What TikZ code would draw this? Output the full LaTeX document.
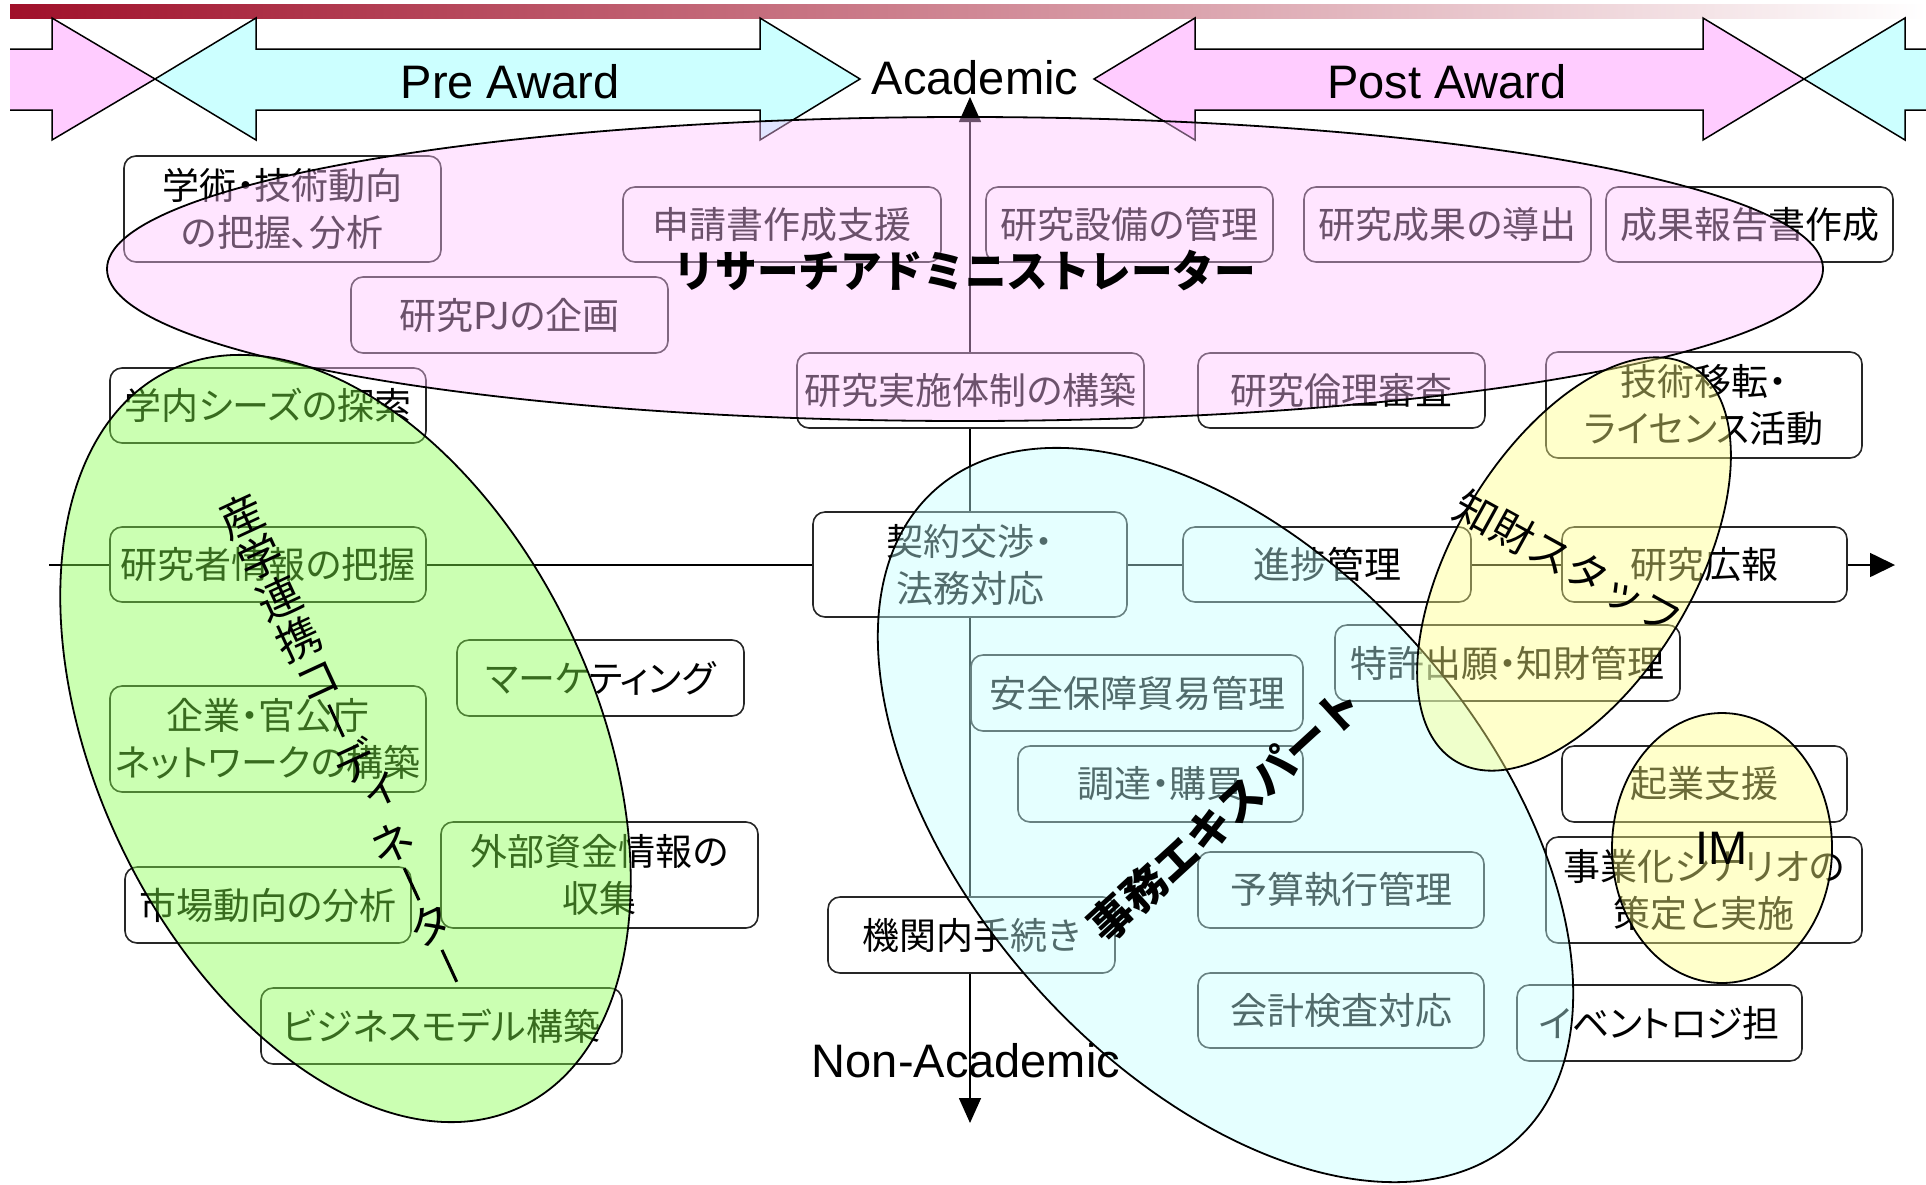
\documentclass[tikz,border=0pt]{standalone}
\usepackage{fontspec}
\usetikzlibrary{arrows.meta,shapes.geometric}
\setmainfont{Liberation Sans}
\newfontfamily\jp{Noto Sans CJK JP}
\newfontfamily\jpp{Noto Sans CJK JP}[RawFeature=+palt]
\definecolor{pinkA}{HTML}{FFCCFF}
\definecolor{cyanA}{HTML}{CCFFFF}
\definecolor{pinkE}{HTML}{FFC2FF}
\definecolor{cyanE}{HTML}{C2FFFF}
\definecolor{greenE}{HTML}{85FF49}
\definecolor{yellowE}{HTML}{FFFF85}
\definecolor{barred}{HTML}{A0102A}
\definecolor{barmid}{HTML}{CE9A9A}
\newcommand{\kvbar}{\raisebox{-0.02em}{\rule{3pt}{0.8em}}}
\newcommand{\ksmalli}{\makebox[1em][l]{\hspace{0.3em}\raisebox{0.3em}{ィ}}}
\tikzset{
  box/.style={draw=black!85, line width=1.6pt, rounded corners=12pt, fill=white,
    inner sep=0pt, align=center, font=\jpp\fontsize{37}{47}\selectfont},
  bigarrow/.style={draw=black, line width=1.5pt, line join=miter},
  axisline/.style={draw=black, line width=1.6pt},
  blob/.style={ellipse, draw=black, line width=1.8pt, fill opacity=0.42, inner sep=0pt},
  tag/.style={inner sep=0pt, text=black},
  latin/.style={font=\fontsize{47}{50}\selectfont, inner sep=0pt, text=black},
}
\begin{document}
\begin{tikzpicture}[x=1pt, y=-1pt]
\useasboundingbox (0,0) rectangle (1926,1184);
\fill[white] (0,0) rectangle (1926,1184);
% top gradient bar
\shade[left color=barred, middle color=barmid, right color=white] (10,4) rectangle (1926,18);
% big arrows
\path[fill=pinkA] (10,49) -- (52,49) -- (52,18) -- (155,79) -- (52,140) -- (52,110) -- (10,110) -- cycle;
\draw[bigarrow] (10,49) -- (52,49) -- (52,18) -- (155,79) -- (52,140) -- (52,110) -- (10,110);
\draw[bigarrow, fill=cyanA] (155,79) -- (256,18) -- (256,49) -- (760,49) -- (760,18) -- (860,79)
  -- (760,140) -- (760,110) -- (256,110) -- (256,140) -- cycle;
\draw[bigarrow, fill=pinkA] (1094,79) -- (1195,18) -- (1195,49) -- (1703,49) -- (1703,18) -- (1804,79)
  -- (1703,140) -- (1703,110) -- (1195,110) -- (1195,140) -- cycle;
\path[fill=cyanA] (1804,79) -- (1905,18) -- (1905,49) -- (1926,49) -- (1926,110) -- (1905,110) -- (1905,140) -- cycle;
\draw[bigarrow] (1926,49) -- (1905,49) -- (1905,18) -- (1804,79) -- (1905,140) -- (1905,110) -- (1926,110);
% axes
\coordinate (vtop) at (970,97);
\coordinate (vbot) at (970,1123);
\coordinate (hl) at (49,565);
\coordinate (hr) at (1895,565);
\draw[axisline, {Triangle[length=25pt,width=22pt]}-{Triangle[length=25pt,width=22pt]}] (vbot) -- (vtop);
\draw[axisline, -{Triangle[length=25pt,width=24pt]}] (hl) -- (hr);
% boxes
\node[box, minimum width=317pt, minimum height=106pt] (b1) at (282.5,209) {学術・技術動向\\の把握、分析};
\node[box, minimum width=318pt, minimum height=75pt] (b2) at (782,224.5) {申請書作成支援};
\node[box, minimum width=287pt, minimum height=75pt] (b3) at (1129.5,224.5) {研究設備の管理};
\node[box, minimum width=287pt, minimum height=75pt] (b4) at (1447.5,224.5) {研究成果の導出};
\node[box, minimum width=287pt, minimum height=75pt] (b5) at (1749.5,224.5) {成果報告書作成};
\node[box, minimum width=317pt, minimum height=76pt] (b6) at (509.5,315) {研究PJの企画};
\node[box, minimum width=316pt, minimum height=75pt] (b7) at (268,405.5) {学内シーズの探索};
\node[box, minimum width=347pt, minimum height=75pt] (b8) at (970.5,390.5) {研究実施体制の構築};
\node[box, minimum width=287pt, minimum height=75pt] (b9) at (1341.5,390.5) {研究倫理審査};
\node[box, minimum width=316pt, minimum height=106pt] (b10) at (1704,405) {技術移転・\\ライセンス活動};
\node[box, minimum width=316pt, minimum height=75pt] (b11) at (268,564.5) {研究者情報の把握};
\node[box, minimum width=314pt, minimum height=105pt] (b12) at (970,564.5) {契約交渉・\\法務対応};
\node[box, minimum width=288pt, minimum height=75pt] (b13) at (1327,564.5) {進捗管理};
\node[box, minimum width=285pt, minimum height=75pt] (b14) at (1704.5,564.5) {研究広報};
\node[box, minimum width=287pt, minimum height=76pt] (b15) at (600.5,678) {マーケティング};
\node[box, minimum width=345pt, minimum height=76pt] (b16) at (1507.5,663) {特許出願・知財管理};
\node[box, minimum width=332pt, minimum height=76pt] (b17) at (1137,693) {安全保障貿易管理};
\node[box, minimum width=316pt, minimum height=106pt] (b18) at (268,739) {企業・官公庁\\ネットワークの構築};
\node[box, minimum width=285pt, minimum height=76pt] (b19) at (1160.5,784) {調達・購買};
\node[box, minimum width=285pt, minimum height=76pt] (b20) at (1704.5,784) {起業支援};
\node[box, minimum width=317pt, minimum height=106pt] (b21) at (599.5,875) {外部資金情報の\\収集};
\node[box, minimum width=316pt, minimum height=106pt] (b22) at (1704,890) {事業化シナリオの\\策定と実施};
\node[box, minimum width=286pt, minimum height=76pt] (b23) at (1341,890) {予算執行管理};
\node[box, minimum width=286pt, minimum height=76pt] (b24) at (268,905) {市場動向の分析};
\node[box, minimum width=287pt, minimum height=76pt] (b25) at (971.5,935) {機関内手続き};
\node[box, minimum width=286pt, minimum height=75pt] (b26) at (1341,1010.5) {会計検査対応};
\node[box, minimum width=285pt, minimum height=76pt] (b27) at (1659.5,1023) {イベントロジ担};
\node[box, minimum width=361pt, minimum height=76pt] (b28) at (441.5,1026) {ビジネスモデル構築};
% role ellipses
\node[blob, fill=pinkE, minimum width=1716pt, minimum height=304pt] (eRA) at (965,269) {};
\node[blob, fill=greenE, minimum width=816pt, minimum height=498pt, rotate=-64.5] (eIC) at (345.5,738.5) {};
\node[blob, fill=cyanE, minimum width=872pt, minimum height=512pt, rotate=-48.2] (eJM) at (1225.5,815) {};
\node[blob, fill=yellowE, minimum width=460pt, minimum height=240pt, rotate=59] (eIP) at (1574,564) {};
\node[blob, fill=yellowE, minimum width=220pt, minimum height=270pt] (eIM) at (1722,848) {};
% role labels
\node[tag, font=\jp\bfseries\fontsize{44}{44}\selectfont] (lRA) at (965,271) {\scalebox{0.945}[1]{リサーチアドミニストレーター}};
\node[tag, rotate=42.4, font=\jp\bfseries\fontsize{44}{44}\selectfont] (lJM) at (1225,815) {事務エキスパート};
\node[tag, rotate=-28.8, font=\jp\fontsize{42}{42}\selectfont] (lIP) at (1569,563) {知財スタッフ};
\node[tag, rotate=24.8, align=center, font=\jp\fontsize{44}{45}\selectfont] (lIC) at (345,740)
  {産\\学\\連\\携\\コ\\\kvbar\\デ\\\ksmalli\\ネ\\\kvbar\\タ\\\kvbar};
\node[latin] (lIM) at (1722,848) {IM};
% axis and phase texts
\node[latin] (tPre) at (510,82) {Pre Award};
\node[latin] (tAcad) at (975,78) {Academic};
\node[latin] (tPost) at (1447,82) {Post Award};
\node[latin] (tNon) at (966,1061) {Non-Academic};
\end{tikzpicture}
\end{document}
